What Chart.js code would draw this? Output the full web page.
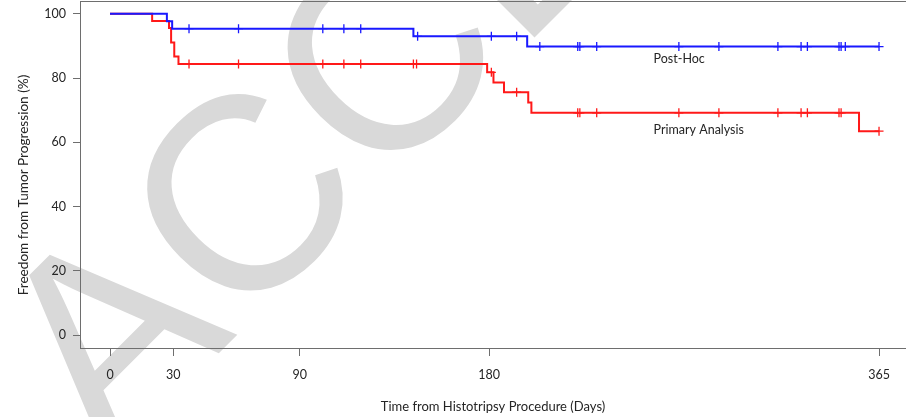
<!DOCTYPE html>
<html>
<head>
<meta charset="utf-8">
<script src="https://cdn.jsdelivr.net/npm/chart.js@4.4.1/dist/chart.umd.min.js"></script>
<style>
  html, body { margin: 0; padding: 0; background: #fff; overflow: hidden; }
</style>
</head>
<body>
<canvas id="chart1" width="906" height="417"></canvas>
<script>
const chart1 = document.querySelector('#chart1');

// axis ticks
const xTicks = [0, 30, 90, 180, 365];
const yTicks = [0, 20, 40, 60, 80, 100];

// Post-Hoc (blue) - step points and censor times
const postHocDays = [0, 27, 29.5, 144, 198, 365];
const postHocSurv = [100, 97.7, 95.4, 93.0, 89.8, 89.8];
const postHocCensor = [37.5, 61, 101, 111, 119, 146, 181, 193, 204, 222, 223, 231, 270, 289, 317, 328, 331, 346, 347, 349, 365];

// Primary Analysis (red)
const primaryDays = [0, 20, 28, 29, 30.5, 32.5, 179, 182, 187, 198.5, 200, 355.5, 365];
const primarySurv = [100, 97.8, 95.6, 91.1, 86.7, 84.4, 81.8, 78.6, 75.6, 72.4, 69.2, 63.5, 63.5];
const primaryCensor = [37.5, 61, 101, 111, 119, 144, 145.5, 181, 193, 222, 223, 231, 270, 289, 317, 328, 331, 346, 347, 365];

const BLUE = 'rgb(25,25,255)';
const RED = 'rgb(255,25,25)';
const AXIS = '#6e6e6e';
const TEXT = '#252525';
const FONT = { family: 'Lato', size: 12.5 };

// value of the step curve at time t
const stepAt = (days, surv, t) => {
    let v = surv[0];
    days.forEach((d, i) => { if (d <= t) v = surv[i]; });
    return v;
};
const toPoints = (xs, ys) => xs.map((x, i) => ({ x: x, y: ys[i] }));
const censorPoints = (cens, days, surv) => cens.map(t => ({ x: t, y: stepAt(days, surv, t) }));

// grey "ACCEPTED" watermark behind the plot
const watermark = {
    id: 'watermark',
    beforeDraw(chart) {
        const ctx = chart.ctx;
        ctx.save();
        ctx.translate(108, 464);
        ctx.rotate(-45 * Math.PI / 180);
        ctx.font = '275px "Liberation Sans"';
        ctx.fillStyle = '#d9d9d9';
        ctx.textBaseline = 'alphabetic';
        ctx.fillText('ACCEPTED MANUSCRIPT', 0, 0);
        ctx.restore();
    }
};

// box, curve labels and y title
const extras = {
    id: 'extras',
    afterDraw(chart) {
        const ctx = chart.ctx;
        const a = chart.chartArea;
        const x = chart.scales.x;
        const y = chart.scales.y;
        ctx.save();
        ctx.strokeStyle = AXIS;
        ctx.lineWidth = 1;
        ctx.strokeRect(a.left + 0.5, a.top + 0.5, a.right - a.left, a.bottom - a.top);

        ctx.fillStyle = TEXT;
        ctx.font = '12.5px Lato';
        ctx.textBaseline = 'middle';
        ctx.textAlign = 'left';
        ctx.fillText('Post-Hoc', x.getPixelForValue(258), y.getPixelForValue(86));
        ctx.fillText('Primary Analysis', x.getPixelForValue(258), y.getPixelForValue(64));

        ctx.font = '13.6px Lato';
        ctx.translate(24, 185);
        ctx.rotate(-Math.PI / 2);
        ctx.textAlign = 'center';
        ctx.fillText('Freedom from Tumor Progression (%)', 0, 0);
        ctx.restore();
    }
};

const config = {
    type: 'line',
    data: {
        datasets: [
            { label: 'Post-Hoc', data: toPoints(postHocDays, postHocSurv), stepped: true, borderColor: BLUE, borderWidth: 2, pointRadius: 0, fill: false },
            { label: 'Primary Analysis', data: toPoints(primaryDays, primarySurv), stepped: true, borderColor: RED, borderWidth: 2, pointRadius: 0, fill: false },
            { type: 'scatter', label: 'Post-Hoc censored', data: censorPoints(postHocCensor, postHocDays, postHocSurv), pointStyle: 'cross', pointRadius: 4.5, borderColor: BLUE, borderWidth: 1.3 },
            { type: 'scatter', label: 'Primary censored', data: censorPoints(primaryCensor, primaryDays, primarySurv), pointStyle: 'cross', pointRadius: 4.5, borderColor: RED, borderWidth: 1.3 }
        ]
    },
    options: {
        responsive: false,
        animation: false,
        devicePixelRatio: 1,
        layout: { autoPadding: false, padding: { top: 1, right: 0, left: 0, bottom: 0 } },
        plugins: { legend: { display: false }, tooltip: { enabled: false } },
        scales: {
            x: {
                type: 'linear',
                min: -14.24,
                max: 377.8,
                afterBuildTicks: s => { s.ticks = xTicks.map(v => ({ value: v })); },
                afterFit: s => { s.height = 69; s.paddingLeft = 0; s.paddingRight = 0; },
                grid: { drawOnChartArea: false, drawTicks: true, tickLength: 8, color: AXIS },
                border: { display: true, color: AXIS },
                ticks: { font: FONT, color: TEXT, padding: 11, maxRotation: 0, autoSkip: false },
                title: { display: true, text: 'Time from Histotripsy Procedure (Days)', font: { family: 'Lato', size: 13 }, color: TEXT, padding: { top: 0, bottom: 2 } }
            },
            y: {
                min: -4,
                max: 104,
                afterBuildTicks: s => { s.ticks = yTicks.map(v => ({ value: v })); },
                afterFit: s => { s.width = 80; s.paddingTop = 0; s.paddingBottom = 0; },
                grid: { drawOnChartArea: false, drawTicks: true, tickLength: 7, color: AXIS },
                border: { display: true, color: AXIS },
                ticks: { font: FONT, color: TEXT, padding: 7, autoSkip: false }
            }
        }
    },
    plugins: [watermark, extras]
};

new Chart(chart1, config);
</script>
</body>
</html>
